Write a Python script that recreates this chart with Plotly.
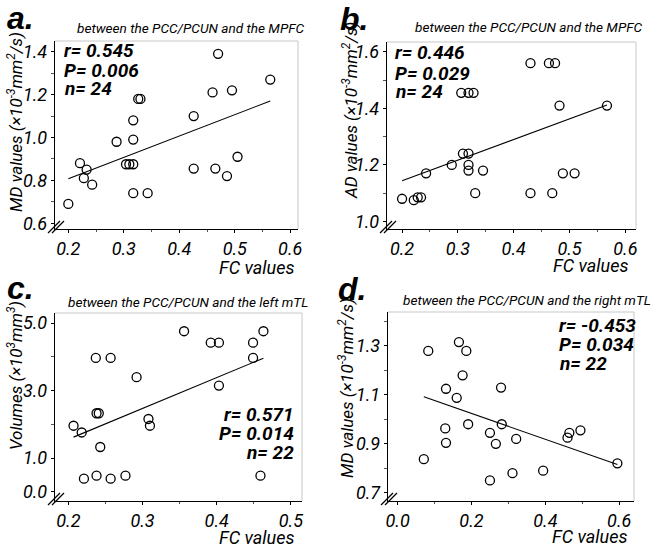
import numpy as np
import plotly.graph_objects as go

# ---------------- data ----------------
a_fc = [0.200, 0.221, 0.228, 0.233, 0.243, 0.287, 0.304, 0.310, 0.317, 0.317, 0.317, 0.317,
        0.326, 0.330, 0.343, 0.426, 0.426, 0.460, 0.465, 0.470, 0.486, 0.495, 0.505, 0.564]
a_md = [0.69, 0.88, 0.81, 0.85, 0.78, 0.98, 0.875, 0.875, 0.875, 0.99, 1.08, 0.74,
        1.18, 1.18, 0.74, 1.10, 0.855, 1.21, 0.855, 1.39, 0.82, 1.22, 0.91, 1.27]

b_fc = [0.200, 0.221, 0.228, 0.234, 0.243, 0.289, 0.306, 0.309, 0.319, 0.319, 0.319, 0.319,
        0.328, 0.331, 0.345, 0.430, 0.430, 0.463, 0.469, 0.474, 0.482, 0.488, 0.509, 0.567]
b_ad = [1.08, 1.075, 1.085, 1.085, 1.17, 1.20, 1.455, 1.24, 1.455, 1.24, 1.20, 1.18,
        1.455, 1.10, 1.18, 1.56, 1.10, 1.56, 1.10, 1.56, 1.41, 1.17, 1.17, 1.41]

c_fc = [0.207, 0.218, 0.221, 0.237, 0.238, 0.238, 0.241, 0.243, 0.257, 0.257, 0.277,
        0.292, 0.308, 0.310, 0.356, 0.392, 0.403, 0.403, 0.449, 0.449, 0.459, 0.463]
c_vol = [1.96, 1.76, 0.39, 3.97, 0.48, 2.33, 2.33, 1.33, 3.97, 0.39, 0.48,
         3.40, 2.16, 1.96, 4.76, 4.42, 4.42, 3.15, 4.42, 3.97, 0.48, 4.76]

d_fc = [0.071, 0.083, 0.129, 0.131, 0.131, 0.160, 0.166, 0.176, 0.186, 0.191, 0.250,
        0.250, 0.266, 0.280, 0.282, 0.311, 0.321, 0.394, 0.460, 0.465, 0.495, 0.595]
d_md = [0.837, 1.28, 0.963, 1.125, 0.904, 1.088, 1.316, 1.18, 1.28, 0.98, 0.75,
        0.945, 0.90, 1.13, 0.98, 0.78, 0.92, 0.79, 0.925, 0.945, 0.955, 0.82]

a_xticks = [0.2, 0.3, 0.4, 0.5, 0.6]
a_yticks = [0.6, 0.8, 1.0, 1.2, 1.4]
b_xticks = [0.2, 0.3, 0.4, 0.5, 0.6]
b_yticks = [1.0, 1.2, 1.4, 1.6]
c_xticks = [0.2, 0.3, 0.4, 0.5]
c_yticks = [0.0, 1.0, 3.0, 5.0]
d_xticks = [0.0, 0.2, 0.4, 0.6]
d_yticks = [0.7, 0.9, 1.1, 1.3]

stats_a = ["r= 0.545", "P= 0.006", "n= 24"]
stats_b = ["r= 0.446", "P= 0.029", "n= 24"]
stats_c = ["r= 0.571", "P= 0.014", "n= 22"]
stats_d = ["r= -0.453", "P= 0.034", "n= 22"]

W, H = 656, 552
FONT = "Roboto, Liberation Sans, sans-serif"

fig = go.Figure()

# panel geometry in pixels: left, right, top, bottom
panels = [
    dict(name="a", fc=a_fc, v=a_md, box=(55, 298, 41, 229), xr=[0.176, 0.614], yr=[0.573, 1.45],
         xt=a_xticks, yt=a_yticks, xminor=0.05, yminor=[0.7, 0.9, 1.1, 1.3],
         ytitle="MD values (×10<sup>-3</sup>mm<sup>2</sup>/s)",
         sub="between the PCC/PCUN and the MPFC", stats=stats_a, stats_pos=(62, [51, 70, 89]), stats_align="left"),
    dict(name="b", fc=b_fc, v=b_ad, box=(387, 636, 42, 229), xr=[0.173, 0.619], yr=[0.973, 1.635],
         xt=b_xticks, yt=b_yticks, xminor=0.05, yminor=[1.1, 1.3, 1.5],
         ytitle="AD values (×10<sup>-3</sup>mm<sup>2</sup>/s)",
         sub="between the PCC/PCUN and the MPFC", stats=stats_b, stats_pos=(393, [53, 73, 92]), stats_align="left"),
    dict(name="c", fc=c_fc, v=c_vol, box=(55, 302, 313, 501), xr=[0.182, 0.515], yr=[-0.27, 5.3],
         xt=c_xticks, yt=c_yticks, xminor=0.05, yminor=[2.0, 4.0],
         ytitle="Volumes (×10<sup>3</sup>mm<sup>3</sup>)",
         sub="between the PCC/PCUN and the left mTL", stats=stats_c, stats_pos=(296, [414, 433, 452]), stats_align="right"),
    dict(name="d", fc=d_fc, v=d_md, box=(388, 634, 312, 501), xr=[-0.026, 0.64], yr=[0.666, 1.439],
         xt=d_xticks, yt=d_yticks, xminor=0.1, yminor=[0.8, 1.0, 1.2, 1.4],
         ytitle="MD values (×10<sup>-3</sup>mm<sup>2</sup>/s)",
         sub="between the PCC/PCUN and the right mTL", stats=stats_d, stats_pos=(557, [325, 344, 363]), stats_align="left"),
]

label_pos = {"a": (20, 18), "b": (354, 19), "c": (20, 288), "d": (352, 289)}
sub_pos = {"a": (190, 28), "b": (528, 27), "c": (188, 302), "d": (527, 300)}
ytitle_pos = {"a": (15, 122), "b": (350, 111), "c": (15, 376), "d": (346, 388)}
fc_pos = {"a": (296, 267), "b": (630, 265), "c": (296, 537), "d": (629, 536)}

def px(x):
    return x / W

def py(y):
    return 1 - y / H

annotations = []
shapes = []
for i, p in enumerate(panels, start=1):
    xa = "x" if i == 1 else f"x{i}"
    ya = "y" if i == 1 else f"y{i}"
    L, R, T, B = p["box"]
    fc = np.array(p["fc"])
    v = np.array(p["v"])
    fig.add_trace(go.Scatter(x=fc, y=v, mode="markers", xaxis=xa, yaxis=ya,
                             marker=dict(symbol="circle-open", size=9, color="black",
                                         line=dict(width=1.3, color="black")),
                             showlegend=False, hoverinfo="skip"))
    k, b0 = np.polyfit(fc, v, 1)
    xs = np.array([fc.min(), fc.max()])
    fig.add_trace(go.Scatter(x=xs, y=k * xs + b0, mode="lines", xaxis=xa, yaxis=ya,
                             line=dict(color="black", width=1.1), showlegend=False, hoverinfo="skip"))
    axis_font = dict(family=FONT, size=18, color="black", style="italic")
    fig.layout[("xaxis" if i == 1 else f"xaxis{i}")] = dict(
        domain=[px(L), px(R)], range=p["xr"], anchor=ya, tickvals=p["xt"], automargin=False,
        ticktext=[f"{t:.1f}" for t in p["xt"]], tickfont=axis_font,
        showline=True, linecolor="black", linewidth=1.2, ticks="outside", ticklen=3,
        tickcolor="black", showgrid=False, zeroline=False, fixedrange=True,
        minor=dict(ticks="outside", ticklen=2, tickcolor="#555", dtick=p["xminor"], tick0=0, showgrid=False))
    fig.layout[("yaxis" if i == 1 else f"yaxis{i}")] = dict(
        domain=[py(B), py(T)], range=p["yr"], anchor=xa, tickvals=p["yt"], automargin=False,
        ticktext=[f"{t:.1f}" for t in p["yt"]], tickfont=axis_font,
        showline=True, linecolor="black", linewidth=1.2, ticks="outside", ticklen=3,
        tickcolor="black", showgrid=False, zeroline=False, fixedrange=True,
        minor=dict(ticks="outside", ticklen=3, tickcolor="#555", tickvals=p["yminor"], showgrid=False))
    # light box top/right
    shapes.append(dict(type="line", xref="paper", yref="paper", x0=px(L), x1=px(R), y0=py(T), y1=py(T),
                       line=dict(color="#c8c8c8", width=1)))
    shapes.append(dict(type="line", xref="paper", yref="paper", x0=px(R), x1=px(R), y0=py(T), y1=py(B),
                       line=dict(color="#c8c8c8", width=1)))
    # axis break marks
    for off in (0, 4):
        shapes.append(dict(type="line", xref="paper", yref="paper",
                           x0=px(L - 7 + off), y0=py(B + 4), x1=px(L + 5 + off), y1=py(B - 8),
                           line=dict(color="black", width=1.3)))
    n = p["name"]
    lx, ly = label_pos[n]
    annotations.append(dict(text=f"<b>{n}.</b>", x=px(lx), y=py(ly), xref="paper", yref="paper",
                            showarrow=False, xanchor="center", yanchor="middle",
                            font=dict(family="Liberation Sans, Arial, sans-serif", size=32, color="black",
                                      style="italic", weight="bold")))
    sx, sy = sub_pos[n]
    annotations.append(dict(text=p["sub"], x=px(sx), y=py(sy), xref="paper", yref="paper",
                            showarrow=False, xanchor="center", yanchor="middle",
                            font=dict(family=FONT, size=13.6, color="black", style="italic")))
    tx, ty = ytitle_pos[n]
    annotations.append(dict(text=p["ytitle"], x=px(tx), y=py(ty), xref="paper", yref="paper",
                            showarrow=False, xanchor="center", yanchor="middle", textangle=-90,
                            font=dict(family=FONT, size=17, color="black", style="italic")))
    fx, fy = fc_pos[n]
    annotations.append(dict(text="FC values", x=px(fx), y=py(fy), xref="paper", yref="paper",
                            showarrow=False, xanchor="right", yanchor="middle",
                            font=dict(family=FONT, size=18, color="black", style="italic")))
    stx, sty = p["stats_pos"]
    for line, yy in zip(p["stats"], sty):
        annotations.append(dict(text=f"<b>{line}</b>", x=px(stx), y=py(yy), xref="paper", yref="paper",
                                showarrow=False, xanchor=p["stats_align"], yanchor="middle",
                                font=dict(family=FONT, size=19, color="black", style="italic",
                                          weight="bold")))

fig.update_layout(width=W, height=H, margin=dict(l=0, r=0, t=0, b=0),
                  paper_bgcolor="white", plot_bgcolor="white",
                  annotations=annotations, shapes=shapes)

fig.write_html("out.html", config={"displayModeBar": False, "staticPlot": True},
               post_script="document.body.style.margin='0';document.body.style.overflow='hidden';")
